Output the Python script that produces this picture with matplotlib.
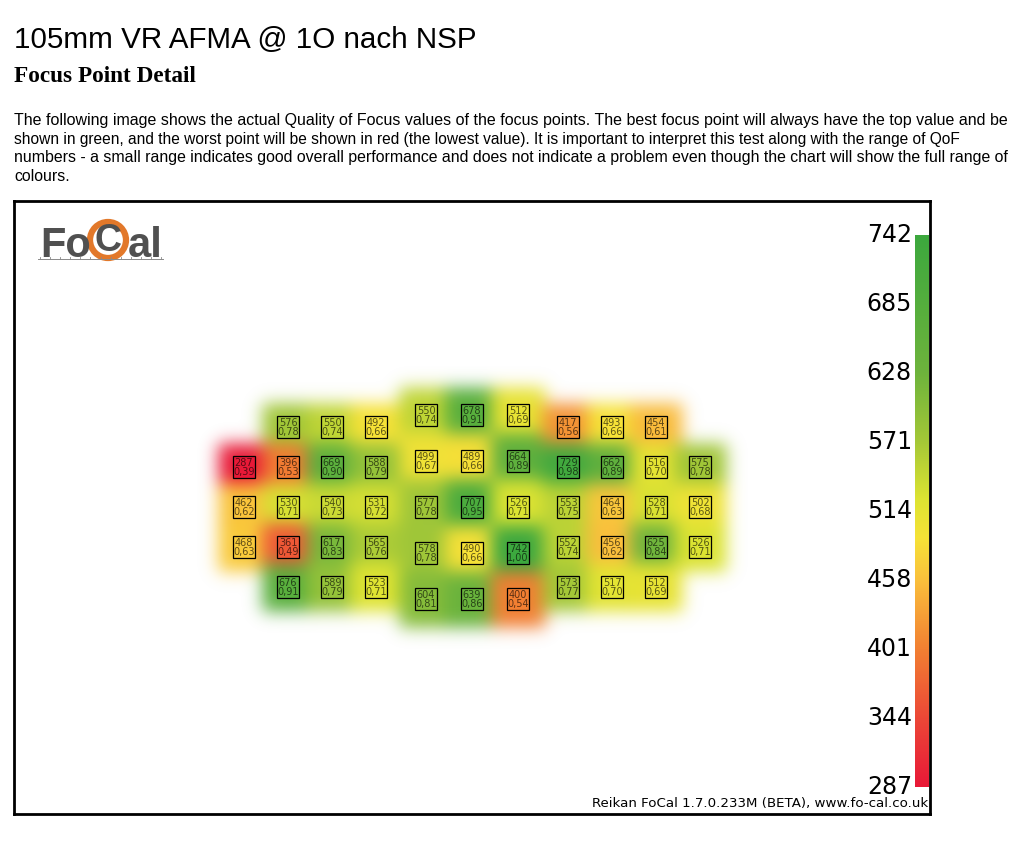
import numpy as np
import matplotlib
matplotlib.use("Agg")
import matplotlib.pyplot as plt
from matplotlib.colors import LinearSegmentedColormap, Normalize
from matplotlib.patches import Rectangle, Circle
from matplotlib.collections import PatchCollection
from matplotlib.transforms import blended_transform_factory, ScaledTranslation

W, H = 1024, 849

# QoF values of the focus points (None = no point there)
left_values = [[None, 576, 550, 492],
               [287, 396, 669, 588],
               [462, 530, 540, 531],
               [468, 361, 617, 565],
               [None, 676, 589, 523]]
left_ratio = [[None, 0.78, 0.74, 0.66],
              [0.39, 0.53, 0.90, 0.79],
              [0.62, 0.71, 0.73, 0.72],
              [0.63, 0.49, 0.83, 0.76],
              [None, 0.91, 0.79, 0.71]]

center_values = [[550, 678, 512],
                 [499, 489, 664],
                 [577, 707, 526],
                 [578, 490, 742],
                 [604, 639, 400]]
center_ratio = [[0.74, 0.91, 0.69],
                [0.67, 0.66, 0.89],
                [0.78, 0.95, 0.71],
                [0.78, 0.66, 1.00],
                [0.81, 0.86, 0.54]]

right_values = [[417, 493, 454, None],
                [729, 662, 516, 575],
                [553, 464, 528, 502],
                [552, 456, 625, 526],
                [573, 517, 512, None]]
right_ratio = [[0.56, 0.66, 0.61, None],
               [0.98, 0.89, 0.70, 0.78],
               [0.75, 0.63, 0.71, 0.68],
               [0.74, 0.62, 0.84, 0.71],
               [0.77, 0.70, 0.69, None]]

title = "105mm VR AFMA @ 1O nach NSP"
heading = "Focus Point Detail"
intro_lines = [
    "The following image shows the actual Quality of Focus values of the focus points. The best focus point will always have the top value and be",
    "shown in green, and the worst point will be shown in red (the lowest value). It is important to interpret this test along with the range of QoF",
    "numbers - a small range indicates good overall performance and does not indicate a problem even though the chart will show the full range of",
    "colours.",
]
intro_widths = [992, 948, 990, None]
footer = "Reikan FoCal 1.7.0.233M (BETA), www.fo-cal.co.uk"

# layout of the three sensor groups in pixels: x0, y0, dx, dy
groups = [
    (left_values, left_ratio, 244, 427, 44, 40),
    (center_values, center_ratio, 426, 415, 46, 46),
    (right_values, right_ratio, 568, 427, 44, 40),
]

all_vals = [v for g in groups for row in g[0] for v in row if v is not None]
vmin, vmax = min(all_vals), max(all_vals)
norm = Normalize(vmin, vmax)
cmap = LinearSegmentedColormap.from_list("qof", [
    (0.0, (232/255, 25/255, 55/255)),
    (0.125, (236/255, 72/255, 55/255)),
    (0.25, (242/255, 128/255, 50/255)),
    (0.375, (250/255, 192/255, 60/255)),
    (0.45, (246/255, 226/255, 55/255)),
    (0.52, (222/255, 228/255, 50/255)),
    (0.625, (165/255, 200/255, 55/255)),
    (0.75, (110/255, 180/255, 60/255)),
    (1.0, (60/255, 168/255, 62/255)),
])


def blur_filter(img, dpi, sigma=8.5, strength=1.0):
    pad = int(3 * sigma)
    ny, nx, _ = img.shape
    src = np.zeros((ny + 2 * pad, nx + 2 * pad, 4))
    src[pad:-pad, pad:-pad] = img
    k = np.exp(-0.5 * (np.arange(-pad, pad + 1) / sigma) ** 2)
    k /= k.sum()

    def conv(a):
        a = np.apply_along_axis(lambda m: np.convolve(m, k, mode="same"), 0, a)
        return np.apply_along_axis(lambda m: np.convolve(m, k, mode="same"), 1, a)

    alpha = src[..., 3:4]
    prem = conv(src[..., :3] * alpha)
    a = conv(alpha[..., 0])[..., None]
    rgb = np.where(a > 1e-4, prem / np.maximum(a, 1e-4), 1.0)
    out = np.concatenate([np.clip(rgb, 0, 1), np.clip(a * strength, 0, 1)], axis=2)
    return out, -pad, -pad


fig = plt.figure(figsize=(W / 100, H / 100), dpi=100)
renderer = fig.canvas.get_renderer()


def fig_text(x, y, s, width=None, **kw):
    t = fig.text(x / W, 1 - y / H, s, **kw)
    if width is not None:
        w = t.get_window_extent(renderer).width
        t.set_fontsize(t.get_fontsize() * width / w)
    return t


fig_text(14, 40, title, width=464, fontsize=24, va="center",
         family=["Liberation Sans", "DejaVu Sans"])
fig_text(14, 76, heading, width=182, fontsize=15, va="center", weight="bold",
         family=["Liberation Serif", "DejaVu Serif"])
size = 11
for i, (line, w) in enumerate(zip(intro_lines, intro_widths)):
    t = fig_text(14, 121 + 18.4 * i, line, width=w, fontsize=size, va="center",
                 family=["Liberation Sans", "DejaVu Sans"])
    size = t.get_fontsize()

# framed chart area, data units = pixels
ax = fig.add_axes([14 / W, 1 - 814 / H, 916 / W, 613 / H])
ax.set_xlim(14, 930)
ax.set_ylim(814, 201)
ax.set_xticks([])
ax.set_yticks([])
for sp in ax.spines.values():
    sp.set_linewidth(2)
    sp.set_color("black")

heat = []
for vals, ratio, x0, y0, dx, dy in groups:
    for r, row in enumerate(vals):
        for c, v in enumerate(row):
            if v is None:
                continue
            x, y = x0 + c * dx, y0 + r * dy
            col = cmap(norm(v))
            hw, hh = dx * 0.58, dy * 0.6
            heat.append(Rectangle((x - hw, y - hh), 2 * hw, 2 * hh,
                                  facecolor=col, edgecolor="none"))
            ax.add_patch(Rectangle((x - 11, y - 11), 22, 22, facecolor=col,
                                   edgecolor="black", lw=0.9, zorder=3))
            tc = tuple(np.array(col[:3]) * 0.38)
            ax.text(x, y - 4.5, str(v), ha="center", va="center", fontsize=7,
                    color=tc, zorder=4)
            ax.text(x, y + 5, f"{ratio[r][c]:.2f}".replace(".", ","), ha="center",
                    va="center", fontsize=7, color=tc, zorder=4)

pc = PatchCollection(heat, match_original=True, zorder=1)
pc.set_agg_filter(blur_filter)
ax.add_collection(pc)

# FoCal logo
ax.text(40, 257, "Fo", ha="left", va="baseline", fontsize=30, weight="bold",
        color="#505050", family="Liberation Sans")
ax.add_patch(Circle((108, 240), 18, facecolor="white", edgecolor="#e2782a", lw=4.5, zorder=2))
ax.text(108, 241, "C", ha="center", va="center", fontsize=27, weight="bold",
        color="#505050", family="Liberation Sans", zorder=3)
ax.text(128, 257, "al", ha="left", va="baseline", fontsize=30, weight="bold",
        color="#505050", family="Liberation Sans")
ax.plot([38, 163], [259, 259], color="#8a8a8a", lw=0.7)
for tx in np.linspace(40, 161, 13):
    ax.plot([tx, tx], [259, 256.5], color="#8a8a8a", lw=0.6)

fig_text(928, 804, footer, width=337, fontsize=9.5, ha="right", va="center",
         family="DejaVu Sans")

# colour scale
cax = fig.add_axes([915 / W, 1 - 787 / H, 14 / W, 552 / H])
grad = np.linspace(vmin, vmax, 256)[:, None]
cax.imshow(grad, aspect="auto", cmap=cmap, norm=norm, origin="lower",
           extent=(0, 1, vmin, vmax))
cax.set_ylim(vmin, vmax)
cax.set_xticks([])
cax.set_yticks([])
for sp in cax.spines.values():
    sp.set_visible(False)
ticks = np.linspace(vmin, vmax, 9)
lab_tr = blended_transform_factory(cax.transAxes, cax.transData) + \
    ScaledTranslation(-3 / 100, 0, fig.dpi_scale_trans)
for t in ticks:
    cax.text(0, t, str(int(round(t))), transform=lab_tr, ha="right", va="center",
             fontsize=17, clip_on=False)

fig.savefig("out.png", dpi=100)
